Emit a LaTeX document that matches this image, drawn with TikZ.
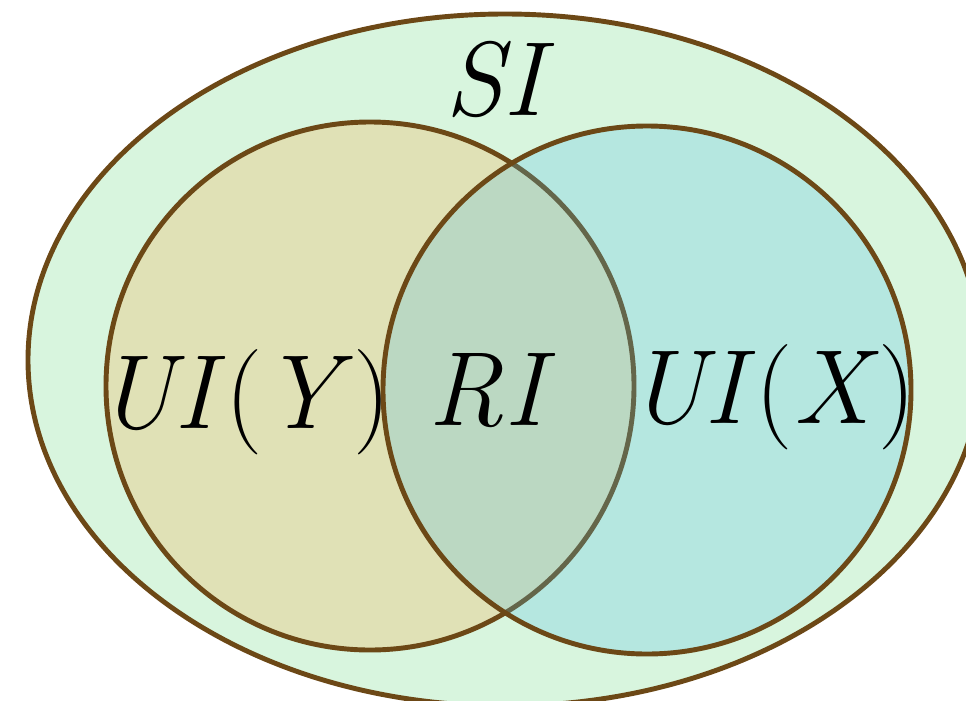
\documentclass[tikz,border=0pt]{standalone}
\usepackage{fontspec}
\definecolor{edge}{RGB}{108,72,22}
\definecolor{outerfill}{RGB}{216,245,222}
\definecolor{leftfill}{RGB}{224,225,182}
\definecolor{rightfill}{RGB}{80,192,232}
\tikzset{
  setline/.style={draw=edge, line width=2.8pt},
  lab/.style={anchor=base, inner sep=0pt, font=\fontsize{60}{60}\selectfont}
}
\begin{document}
\begin{tikzpicture}[x=0.02cm, y=-0.02cm]
\useasboundingbox (0,0) rectangle (966,700);
\begin{scope}
\clip (0,0) rectangle (966,700);
\path[setline, fill=outerfill] (505,360) ellipse [x radius=477, y radius=346];
\path[setline, fill=leftfill] (370,386) circle [radius=264];
\fill[rightfill, fill opacity=0.25] (647,390) circle [radius=264];
\draw[setline] (647,390) circle [radius=264];
\end{scope}
\node[lab] (si) at (500,115) {\textit{SI}};
\node[lab] (uiy) at (244,428) {\textit{UI\/}(\textit{Y\/})};
\node[lab] (ri) at (492,425) {\textit{RI}};
\node[lab] (uix) at (772,423) {\textit{UI\/}(\textit{X\/})};
\end{tikzpicture}
\end{document}
